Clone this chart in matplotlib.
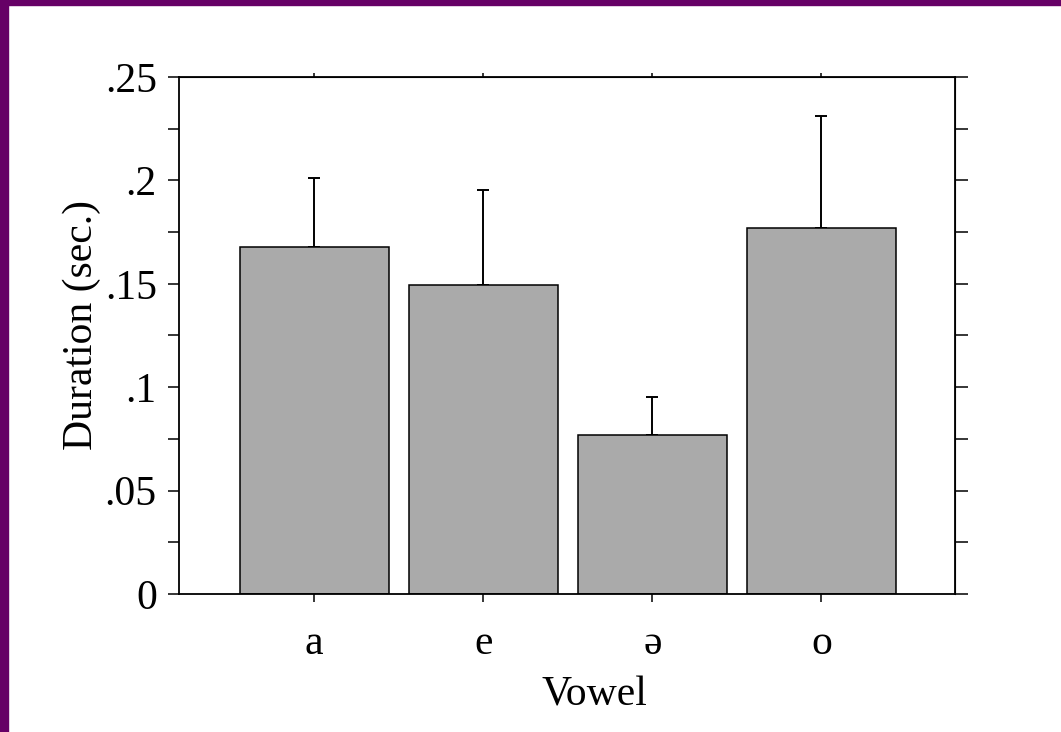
import numpy as np
import matplotlib
matplotlib.use("Agg")
import matplotlib.pyplot as plt
from matplotlib.patches import Rectangle
from matplotlib.ticker import MultipleLocator, FuncFormatter

# vowel durations (mean and upper error)
vowels = ["a", "e", "ə", "o"]
durations = [0.168, 0.1495, 0.077, 0.177]
errors = [0.033, 0.046, 0.0185, 0.054]

plt.rcParams['font.family'] = ['Liberation Serif', 'DejaVu Serif']
plt.rcParams['font.size'] = 30

fig = plt.figure(figsize=(10.61, 7.32), dpi=100)
ax = fig.add_axes([179 / 1061, 138 / 732, 776 / 1061, 517 / 732])

x = np.arange(len(vowels))
ax.bar(x, durations, width=0.88, color="#aaaaaa", edgecolor="black", linewidth=1.1, zorder=2)
ax.errorbar(x, durations, yerr=[np.zeros(len(x)), errors], fmt="none",
            ecolor="black", elinewidth=1.4, capsize=4.5, capthick=1.4, zorder=1)

ax.set_xlim(-0.8, 3.79)
ax.set_ylim(0, 0.25)
ax.set_xticks(x)
ax.set_xticklabels(vowels)
ax.yaxis.set_major_locator(MultipleLocator(0.05))
ax.yaxis.set_minor_locator(MultipleLocator(0.025))
ax.yaxis.set_major_formatter(FuncFormatter(lambda v, p: "0" if v == 0 else ("%g" % round(v, 3)).lstrip("0")))

ax.tick_params(axis="y", which="both", direction="out", length=8, width=1.1, pad=8)
ax.tick_params(axis="x", direction="out", length=6, width=1.1, pad=16)

for s in ax.spines.values():
    s.set_linewidth(1.3)

# top and right ticks
top = ax.secondary_xaxis("top")
top.set_xticks(x)
top.tick_params(direction="out", length=3, width=1.1, labeltop=False)
right = ax.secondary_yaxis("right")
right.yaxis.set_major_locator(MultipleLocator(0.025))
right.tick_params(direction="out", length=9.5, width=1.1, labelright=False)

ax.set_xlabel("Vowel", labelpad=9)
ax.set_ylabel("Duration (sec.)")
ax.yaxis.set_label_coords(-0.1, 0.52)
ax.xaxis.label.set_x(0.536)

# purple frame on the top and left edges
fig.patches.append(Rectangle((0, 1 - 5 / 732), 1, 5 / 732, transform=fig.transFigure,
                             color="#660066", zorder=10))
fig.patches.append(Rectangle((0, 0), 8 / 1061, 1, transform=fig.transFigure,
                             color="#660066", zorder=10))

fig.savefig("out.png", dpi=100)
